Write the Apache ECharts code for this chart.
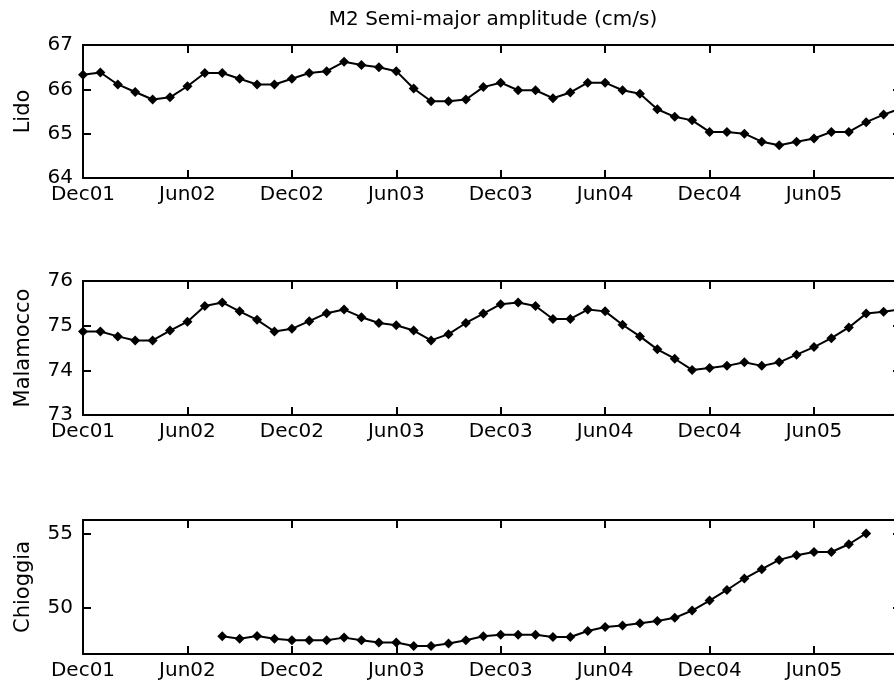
<!DOCTYPE html>
<html>
<head>
<meta charset="utf-8">
<script src="https://cdn.jsdelivr.net/npm/echarts@6/dist/echarts.min.js"></script>
<style>
html,body{margin:0;padding:0;background:#fff;}
#chart{width:894px;height:686px;}
</style>
</head>
<body>
<div id="chart"></div>
<script>
const months = ['Dec01','Jan02','Feb02','Mar02','Apr02','May02','Jun02','Jul02','Aug02','Sep02','Oct02','Nov02',
  'Dec02','Jan03','Feb03','Mar03','Apr03','May03','Jun03','Jul03','Aug03','Sep03','Oct03','Nov03',
  'Dec03','Jan04','Feb04','Mar04','Apr04','May04','Jun04','Jul04','Aug04','Sep04','Oct04','Nov04',
  'Dec04','Jan05','Feb05','Mar05','Apr05','May05','Jun05','Jul05','Aug05','Sep05','Oct05','Nov05'];

const lido = [66.33,66.38,66.11,65.94,65.77,65.82,66.07,66.37,66.37,66.24,
  66.11,66.11,66.24,66.37,66.41,66.62,66.55,66.50,66.41,66.02,
  65.73,65.73,65.77,66.05,66.15,65.98,65.98,65.80,65.93,66.15,
  66.15,65.98,65.90,65.55,65.38,65.30,65.04,65.04,65.00,64.82,
  64.74,64.82,64.89,65.04,65.04,65.26,65.43,65.57];

const malamocco = [74.87,74.87,74.76,74.67,74.67,74.89,75.09,75.44,75.52,75.32,
  75.13,74.87,74.93,75.10,75.28,75.36,75.19,75.06,75.01,74.89,
  74.67,74.81,75.06,75.27,75.48,75.52,75.44,75.15,75.15,75.36,
  75.32,75.02,74.76,74.47,74.26,74.01,74.05,74.10,74.18,74.10,
  74.18,74.35,74.52,74.72,74.96,75.27,75.31,75.37];

const chioggia = [null,null,null,null,null,null,null,null,
  48.09,47.93,48.11,47.93,47.82,47.82,47.82,48.00,47.82,47.67,47.67,47.44,47.44,47.60,47.82,
  48.09,48.20,48.20,48.20,48.04,48.04,48.44,48.71,48.82,48.97,49.11,49.33,49.82,50.49,51.20,
  51.97,52.60,53.22,53.53,53.75,53.75,54.27,55.00,null,null];

const panelNames = ['Lido','Malamocco','Chioggia'];
const yMin = [64, 73, 46.9];
const yMax = [67, 76, 55.9];
const yTicks = [[64,65,66,67],[73,74,75,76],[50,55]];
const titleText = 'M2 Semi-major amplitude (cm/s)';

const FONT = 'DejaVu Sans';
const grids = [
  {left:83, width:818, top:45, height:133, outerBoundsMode:'none', containLabel:false},
  {left:83, width:818, top:281, height:134, outerBoundsMode:'none', containLabel:false},
  {left:83, width:818, top:520, height:134, outerBoundsMode:'none', containLabel:false}
];
const seriesData = [lido, malamocco, chioggia];

const xAxes = [], yAxes = [], series = [];
const lineSty = {color:'#000', width:2};
grids.forEach((g, i) => {
  xAxes.push({
    type:'category', gridIndex:i, data:months, boundaryGap:false, position:'bottom',
    axisLine:{lineStyle:lineSty},
    axisTick:{inside:true, length:8, interval:5, lineStyle:lineSty},
    axisLabel:{interval:5, color:'#000', fontFamily:FONT, fontSize:20, margin:7},
    splitLine:{show:false}
  });
  xAxes.push({
    type:'category', gridIndex:i, data:months, boundaryGap:false, position:'top',
    axisLine:{lineStyle:lineSty},
    axisTick:{inside:true, length:8, interval:5, lineStyle:lineSty},
    axisLabel:{show:false},
    splitLine:{show:false}
  });
  yAxes.push({
    type:'value', gridIndex:i, min:yMin[i], max:yMax[i], position:'left',
    name:panelNames[i], nameLocation:'middle', nameRotate:90, nameGap:49,
    nameTextStyle:{color:'#000', fontFamily:FONT, fontSize:21},
    axisLine:{show:true, lineStyle:lineSty},
    axisTick:{show:true, inside:true, length:8, lineStyle:lineSty, customValues:yTicks[i]},
    axisLabel:{color:'#000', fontFamily:FONT, fontSize:20, margin:10, customValues:yTicks[i]},
    splitLine:{show:false}
  });
  yAxes.push({
    type:'value', gridIndex:i, min:yMin[i], max:yMax[i], position:'right',
    axisLine:{show:true, lineStyle:lineSty},
    axisTick:{show:true, inside:true, length:8, lineStyle:lineSty, customValues:yTicks[i]},
    axisLabel:{show:false},
    splitLine:{show:false}
  });
  series.push({
    type:'line', xAxisIndex:2*i, yAxisIndex:2*i, data:seriesData[i],
    symbol:'diamond', symbolSize:10, showAllSymbol:true, connectNulls:false,
    lineStyle:{color:'#000', width:2}, itemStyle:{color:'#000'},
    emphasis:{disabled:true}
  });
});

const chart = echarts.init(document.getElementById('chart'), null, {renderer:'canvas'});
chart.setOption({
  animation:false,
  backgroundColor:'#fff',
  title:{text:titleText, left:488, top:5, textAlign:'center',
    textStyle:{color:'#000', fontFamily:FONT, fontSize:20, fontWeight:'normal'}},
  grid:grids,
  xAxis:xAxes,
  yAxis:yAxes,
  series:series
});
</script>
</body>
</html>
